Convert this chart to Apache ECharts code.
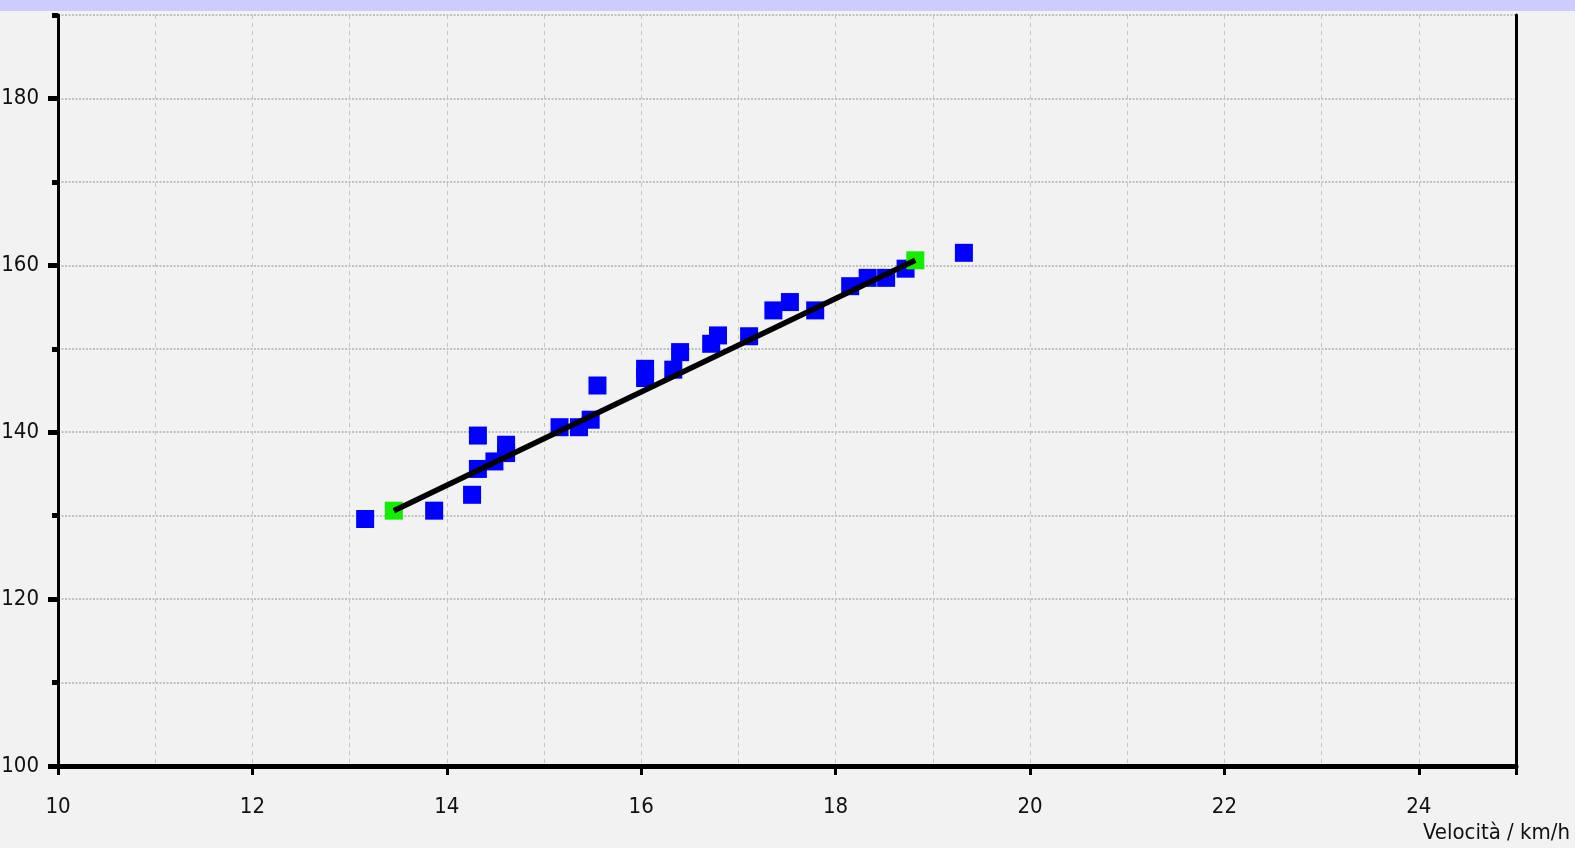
<!DOCTYPE html>
<html>
<head>
<meta charset="utf-8">
<title>Velocità / frequenza</title>
<script src="https://cdn.jsdelivr.net/npm/echarts@6/dist/echarts.min.js"></script>
<style>
  html, body { margin: 0; padding: 0; background: #f2f2f2; }
  #chart { width: 1575px; height: 848px; }
</style>
</head>
<body>
<div id="chart"></div>
<script>
// Measured points: speed (km/h) against heart rate
const velocita = [13.16, 13.87, 14.26, 14.32, 14.32, 14.49, 14.61, 14.61, 15.16, 15.36,
                  15.48, 15.55, 16.04, 16.04, 16.33, 16.40, 16.72, 16.79, 17.11, 17.36,
                  17.53, 17.79, 18.15, 18.33, 18.52, 18.72, 19.32];
const frequenza = [129.6, 130.6, 132.5, 135.6, 139.6, 136.5, 137.5, 138.5, 140.6, 140.6,
                   141.5, 145.6, 146.5, 147.6, 147.5, 149.6, 150.6, 151.6, 151.5, 154.6,
                   155.6, 154.6, 157.5, 158.5, 158.5, 159.6, 161.5];

// Endpoints of the regression segment
const estremiX = [13.455, 18.82];
const estremiY = [130.6, 160.6];

// Axis ticks and labels
const xLabelValues = [10, 12, 14, 16, 18, 20, 22, 24];
const yLabelValues = [100, 120, 140, 160, 180];
const xNome = 'Velocità / km/h';

const puntiMisura = velocita.map((v, i) => [v, frequenza[i]]);
const puntiEstremi = estremiX.map((v, i) => [v, estremiY[i]]);

const labelFont = {
  fontFamily: "'Liberation Sans Narrow', 'DejaVu Sans Condensed', sans-serif",
  fontSize: 22,
  color: '#111'
};

const chart = echarts.init(document.getElementById('chart'), null, { renderer: 'canvas' });

chart.setOption({
  backgroundColor: '#f2f2f2',
  animation: false,
  graphic: [{
    type: 'rect',
    left: 0, top: 0,
    shape: { width: 1575, height: 11 },
    style: { fill: '#ccccff' },
    silent: true
  }],
  grid: { left: 58, right: 59, top: 15, bottom: 82, outerBoundsMode: 'none', containLabel: false },
  xAxis: [{
    // grid lines every 1 km/h and the thick base line
    type: 'value', min: 10, max: 25, interval: 1, position: 'bottom',
    axisLine: { show: true, onZero: false, lineStyle: { color: '#000', width: 5 } },
    axisTick: { show: false },
    axisLabel: { show: false },
    splitLine: { show: true, lineStyle: { color: '#c4c4c4', width: 1, type: [4, 4] } }
  }, {
    // labelled ticks every 2 km/h
    type: 'value', min: 10, max: 25, interval: 2, position: 'bottom',
    axisLine: { show: false, onZero: false },
    axisTick: { show: true, length: 9, lineStyle: { color: '#000', width: 3 } },
    axisLabel: Object.assign({
      show: true, margin: 30,
      formatter: v => (xLabelValues.indexOf(v) >= 0 ? String(v) : '')
    }, labelFont),
    splitLine: { show: false },
    name: xNome,
    nameLocation: 'end',
    nameGap: 54,
    nameTextStyle: Object.assign({}, labelFont, { align: 'right', verticalAlign: 'top', padding: [56, 0, 0, 0] })
  }],
  yAxis: [{
    type: 'value', min: 100, max: 190, interval: 10, position: 'left',
    axisLine: { show: true, onZero: false, lineStyle: { color: '#000', width: 3 } },
    axisTick: { show: true, length: 6, lineStyle: { color: '#000', width: 5 } },
    axisLabel: { show: false },
    splitLine: { show: true, lineStyle: { color: '#c0c0c0', width: 2, type: [2, 1.5] } }
  }, {
    type: 'value', min: 100, max: 190, interval: 10, position: 'left',
    axisLine: { show: false, onZero: false },
    axisTick: { show: true, length: 10, customValues: yLabelValues, lineStyle: { color: '#000', width: 5 } },
    axisLabel: Object.assign({ show: true, margin: 19, customValues: yLabelValues }, labelFont),
    splitLine: { show: false }
  }, {
    // right frame line
    type: 'value', min: 100, max: 190, interval: 10, position: 'right',
    axisLine: { show: true, onZero: false, lineStyle: { color: '#000', width: 3 } },
    axisTick: { show: false },
    axisLabel: { show: false },
    splitLine: { show: false }
  }],
  series: [{
    type: 'scatter',
    xAxisIndex: 0, yAxisIndex: 0,
    symbol: 'rect', symbolSize: 18,
    itemStyle: { color: '#0000ff', opacity: 1 },
    data: puntiMisura,
    z: 2
  }, {
    type: 'scatter',
    xAxisIndex: 0, yAxisIndex: 0,
    symbol: 'rect', symbolSize: 18,
    itemStyle: { color: '#11ee00', opacity: 1 },
    data: puntiEstremi,
    z: 3
  }, {
    type: 'line',
    xAxisIndex: 0, yAxisIndex: 0,
    showSymbol: false,
    lineStyle: { color: '#000', width: 5.5 },
    data: puntiEstremi,
    z: 4
  }]
});
</script>
</body>
</html>
